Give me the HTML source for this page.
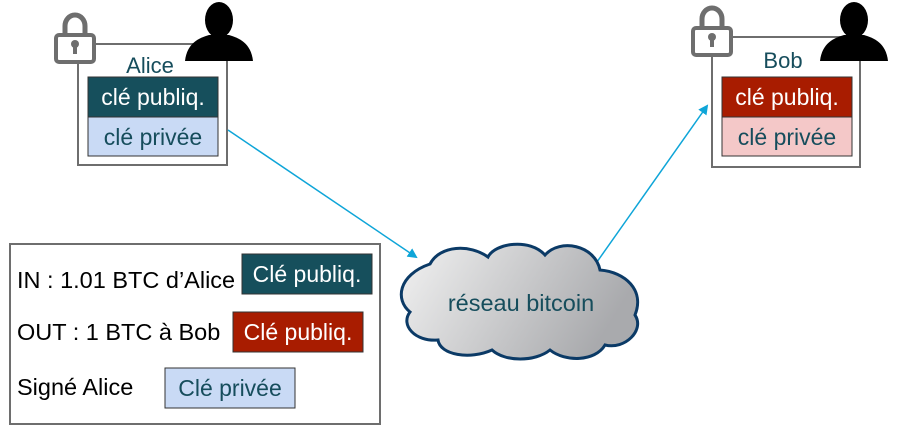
<!DOCTYPE html>
<html><head><meta charset="utf-8"><style>
body{margin:0;background:#fff}
svg{display:block;font-family:"Liberation Sans",sans-serif}
</style></head><body>
<svg width="904" height="444" viewBox="0 0 904 444" xmlns="http://www.w3.org/2000/svg">
<defs>
<linearGradient id="cg" x1="0" y1="0" x2="1" y2="0.3"><stop offset="0" stop-color="#f2f2f2"/><stop offset="1" stop-color="#a9aaad"/></linearGradient>
<marker id="ah" markerWidth="10" markerHeight="10" refX="8" refY="5" orient="auto" markerUnits="userSpaceOnUse"><path d="M0,0 L10,5 L0,10 z" fill="#0ea5d8"/></marker>
<g id="lock"><path d="M11,24 V14 a10,11 0 0 1 20,0 V24" fill="none" stroke="#6e6e6e" stroke-width="5"/><rect x="2" y="23" width="38" height="27" rx="3" fill="#fff" stroke="#6e6e6e" stroke-width="4"/><circle cx="21" cy="32" r="4" fill="#6e6e6e"/><rect x="19" y="32" width="4" height="10" fill="#6e6e6e"/></g>
<g id="person"><ellipse cx="34" cy="19" rx="14" ry="18" fill="#000"/><path d="M0,60 C2,42 14,37 24,34 L44,34 C54,37 66,42 68,60 z" fill="#000"/></g>
</defs>
<rect x="78" y="44" width="149" height="121" fill="#fff" stroke="#6e6e6e" stroke-width="2"/>
<use href="#lock" x="54" y="12"/>
<use href="#person" x="185" y="1"/>
<text x="150" y="73" font-size="22" fill="#164d5c" text-anchor="middle">Alice</text>
<rect x="88" y="77" width="130" height="40" fill="#164f5c" stroke="#333" stroke-width="1"/>
<text x="153" y="105" font-size="23" fill="#fff" text-anchor="middle">clé publiq.</text>
<rect x="88" y="117" width="130" height="39" fill="#c9daf5" stroke="#333" stroke-width="1"/>
<text x="153" y="145" font-size="23" fill="#164d5c" text-anchor="middle">clé privée</text>
<rect x="712" y="37" width="148" height="130" fill="#fff" stroke="#6e6e6e" stroke-width="2"/>
<use href="#lock" x="691" y="5"/>
<use href="#person" x="820" y="1"/>
<text x="783" y="68" font-size="22" fill="#164d5c" text-anchor="middle">Bob</text>
<rect x="722" y="77" width="130" height="40" fill="#a81c00" stroke="#333" stroke-width="1"/>
<text x="787" y="105" font-size="23" fill="#fff" text-anchor="middle">clé publiq.</text>
<rect x="722" y="117" width="130" height="39" fill="#f4c8c8" stroke="#333" stroke-width="1"/>
<text x="787" y="145" font-size="23" fill="#164d5c" text-anchor="middle">clé privée</text>
<line x1="228" y1="130" x2="416" y2="257" stroke="#0ea5d8" stroke-width="1.5" marker-end="url(#ah)"/>
<line x1="592" y1="269" x2="707" y2="106" stroke="#0ea5d8" stroke-width="1.5" marker-end="url(#ah)"/>
<path d="M430,264 C440,245 470,244 488,257 C495,243 530,238 545,255 C560,238 595,245 600,270 C625,272 645,290 635,315 C645,330 625,350 605,345 C595,362 565,362 550,350 C535,362 505,362 492,350 C470,360 440,355 438,340 C415,342 400,325 410,312 C395,300 398,275 430,264 z" fill="url(#cg)" stroke="#0b3a66" stroke-width="3"/>
<text x="521" y="311" font-size="23.5" fill="#164d5c" text-anchor="middle">réseau bitcoin</text>
<rect x="10" y="244" width="370" height="180" fill="#fff" stroke="#6e6e6e" stroke-width="2"/>
<text x="17" y="288" font-size="23.5" fill="#000">IN : 1.01 BTC d’Alice</text>
<rect x="242" y="254" width="130" height="40" fill="#164f5c" stroke="#333" stroke-width="1"/>
<text x="307" y="282" font-size="23" fill="#fff" text-anchor="middle">Clé publiq.</text>
<text x="17" y="340" font-size="23.5" fill="#000">OUT : 1 BTC à Bob</text>
<rect x="233" y="312" width="130" height="40" fill="#a81c00" stroke="#333" stroke-width="1"/>
<text x="298" y="340" font-size="23" fill="#fff" text-anchor="middle">Clé publiq.</text>
<text x="17" y="395" font-size="23.5" fill="#000">Signé Alice</text>
<rect x="165" y="368" width="130" height="40" fill="#c9daf5" stroke="#333" stroke-width="1"/>
<text x="230" y="396" font-size="23" fill="#164d5c" text-anchor="middle">Clé privée</text>
</svg>
</body></html>
